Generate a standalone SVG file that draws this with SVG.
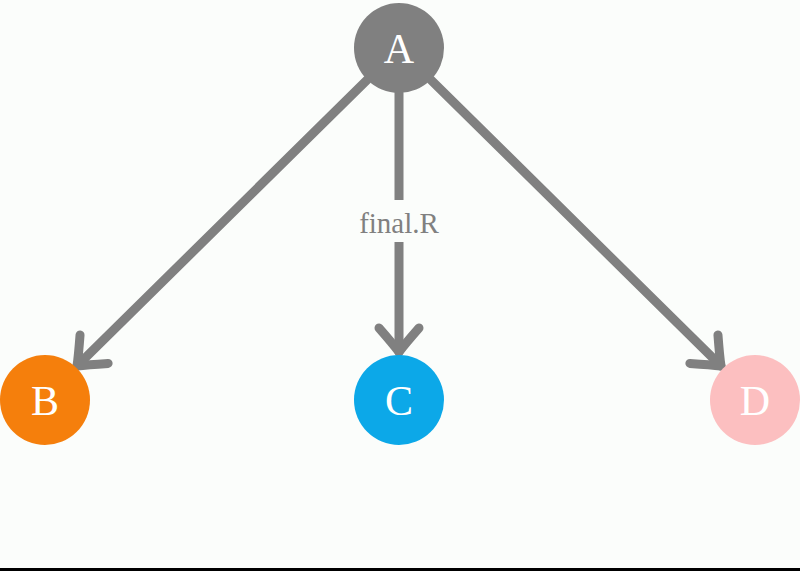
<svg xmlns="http://www.w3.org/2000/svg" width="800" height="571" viewBox="0 0 800 571">
<style>
.e{stroke:#808080;stroke-width:9;fill:none;stroke-linecap:round;marker-end:url(#ah)}
.t{font-family:"Liberation Serif",serif;font-size:42px;fill:#fff;text-anchor:middle}
</style>
<defs>
<marker id="ah" markerUnits="userSpaceOnUse" orient="auto" markerWidth="60" markerHeight="60" refX="0" refY="0" viewBox="-30 -30 60 60" overflow="visible">
<path d="M-24,-20 Q-8,-6 0,0 Q-8,6 -24,20" fill="none" stroke="#808080" stroke-width="9" stroke-linecap="round" stroke-linejoin="round"/>
</marker>
</defs>
<rect width="800" height="571" fill="#fbfdfb"/>
<line x1="0" y1="569.5" x2="800" y2="569.5" stroke="#000" stroke-width="3"/>
<g id="connectors">
<path class="e" d="M367,80 L77,366"/>
<path class="e" d="M399,93 L399,352"/>
<path class="e" d="M431,80 L721,366"/>
<rect x="336" y="200" width="126" height="42" fill="#fbfdfb"/>
<text x="399" y="233" font-family="Liberation Serif,serif" font-size="29" fill="#808080" text-anchor="middle">final.R</text>
</g>
<g id="A"><circle cx="399" cy="48" r="45" fill="#808080"/><text class="t" x="399" y="63">A</text></g>
<g id="B"><circle cx="45" cy="400" r="45" fill="#f57f0c"/><text class="t" x="45" y="415">B</text></g>
<g id="C"><circle cx="399" cy="400" r="45" fill="#0ca8e8"/><text class="t" x="399" y="415">C</text></g>
<g id="D"><circle cx="755" cy="400" r="45" fill="#fcbfc0"/><text class="t" x="755" y="415">D</text></g>
</svg>
